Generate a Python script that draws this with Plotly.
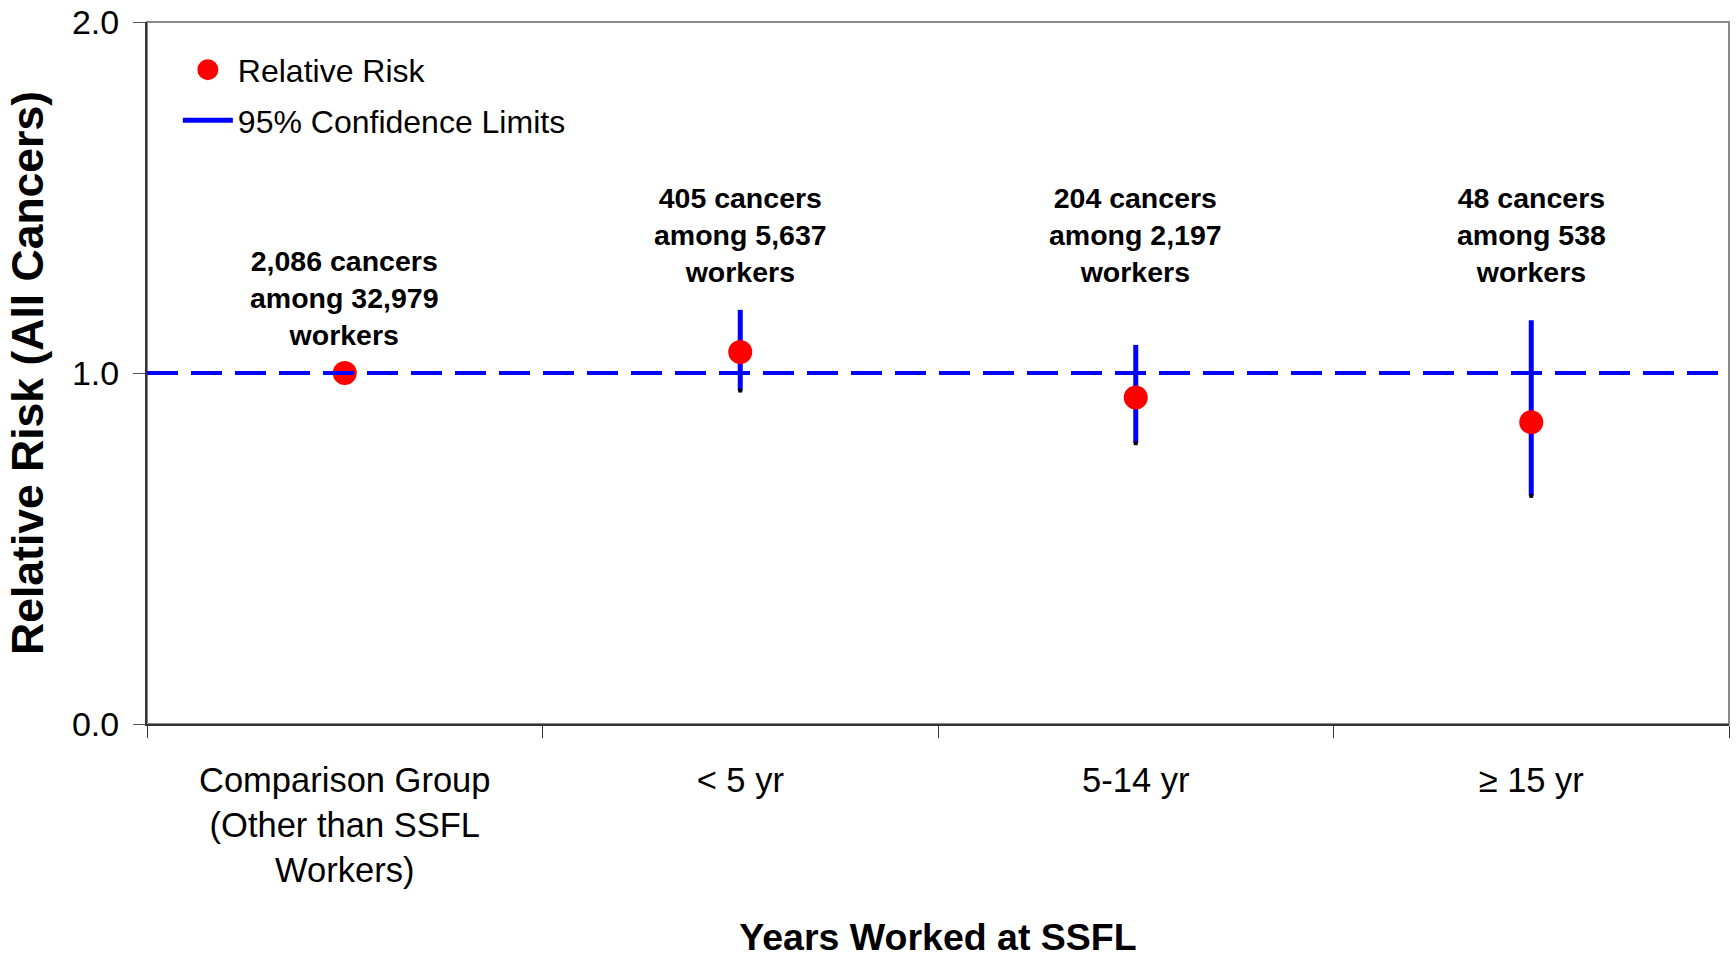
import plotly.graph_objects as go

categories = ["Comparison Group<br>(Other than SSFL<br>Workers)", "< 5 yr", "5-14 yr", "≥ 15 yr"]
relative_risk = [1.0, 1.06, 0.93, 0.86]
ci_lower = [None, 0.95, 0.80, 0.65]
ci_upper = [None, 1.18, 1.08, 1.15]
case_labels = [
    "2,086 cancers<br>among 32,979<br>workers",
    "405 cancers<br>among 5,637<br>workers",
    "204 cancers<br>among 2,197<br>workers",
    "48 cancers<br>among 538<br>workers",
]
label_y = [1.213, 1.392, 1.392, 1.392]
reference_value = 1.0
y_ticks = [0.0, 1.0, 2.0]

FONT = "Liberation Sans, Arial, sans-serif"

# CI segments
ci_x, ci_y = [], []
for c, lo, hi in zip(categories, ci_lower, ci_upper):
    if lo is None:
        continue
    ci_x += [c, c, None]
    ci_y += [lo, hi, None]

lo_x = [c for c, lo in zip(categories, ci_lower) if lo is not None]
lo_y = [lo for lo in ci_lower if lo is not None]

fig = go.Figure()

# reference dashed line (spans full width via overlay axis)
fig.add_trace(go.Scatter(
    x=[0, 1], y=[reference_value, reference_value],
    mode="lines", line=dict(color="#0000FF", width=4, dash="31px,13px"),
    showlegend=False, hoverinfo="skip", xaxis="x2"))

fig.add_trace(go.Scatter(
    x=ci_x, y=ci_y, mode="lines", name="95% Confidence Limits",
    line=dict(color="#0000FF", width=5), legendrank=2, legendgroup="b"))

fig.add_trace(go.Scatter(
    x=lo_x, y=lo_y, mode="markers", showlegend=False,
    marker=dict(color="black", size=4, symbol="square")))

fig.add_trace(go.Scatter(
    x=categories, y=relative_risk, mode="markers", name="Relative Risk",
    marker=dict(color="#FF0000", size=19, line=dict(color="#FF0000", width=5)),
    legendrank=1, legendgroup="a"))

for c, t, yv in zip(categories, case_labels, label_y):
    fig.add_annotation(x=c, y=yv, text="<b>" + t + "</b>", showarrow=False,
                       yanchor="middle", xanchor="center",
                       font=dict(family=FONT, size=28.5, color="black"))

fig.update_layout(
    width=1736, height=958,
    margin=dict(l=147, r=7, t=22, b=234, autoexpand=False),
    paper_bgcolor="white", plot_bgcolor="white",
    font=dict(family=FONT, color="black"),
    legend=dict(x=0.0195, y=0.971, xanchor="left", yanchor="top",
                font=dict(family=FONT, size=32, color="black"),
                traceorder="grouped", tracegroupgap=6, itemwidth=50,
                bgcolor="rgba(0,0,0,0)"),
    xaxis=dict(
        type="category", categoryorder="array", categoryarray=categories,
        range=[-0.5, 3.5], tickson="boundaries", ticks="outside", ticklen=12,
        tickcolor="#333", tickwidth=1, automargin=False,
        showline=True, linecolor="#333", linewidth=2, showgrid=False,
        ticklabelstandoff=25,
        tickfont=dict(family=FONT, size=34.5, color="black"),
        title=dict(text="<b>Years Worked at SSFL</b>", standoff=39,
                   font=dict(family=FONT, size=37.5, color="black")),
        zeroline=False),
    xaxis2=dict(overlaying="x", range=[0, 1], visible=False, fixedrange=True),
    yaxis=dict(
        range=[0, 2], tickvals=y_ticks, tickformat=".1f", ticks="outside",
        ticklen=12, tickcolor="#555", tickwidth=1, automargin=False,
        showline=True, linecolor="#333", linewidth=2, showgrid=False,
        zeroline=False, ticklabelstandoff=7,
        tickfont=dict(family=FONT, size=34, color="black"),
        title=dict(text="<b>Relative Risk (All Cancers)</b>", standoff=14,
                   font=dict(family=FONT, size=44.5, color="black"))),
    shapes=[dict(type="rect", xref="paper", yref="paper", x0=0, x1=1, y0=0, y1=1,
                 line=dict(color="#888888", width=2), layer="below")],
)

fig.write_html("out.html")
